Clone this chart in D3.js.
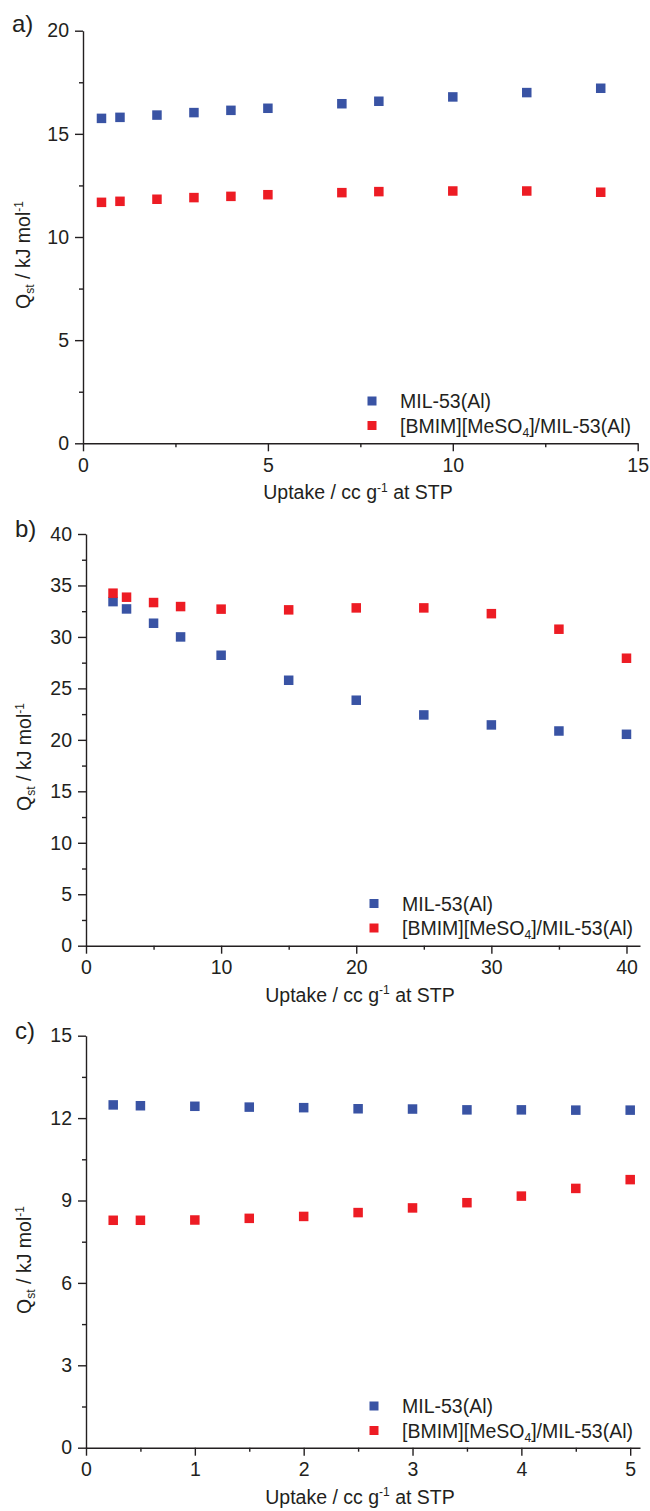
<!DOCTYPE html>
<html>
<head>
<meta charset="utf-8">
<script src="https://cdn.jsdelivr.net/npm/d3@7"></script>
<style>
  html, body { margin: 0; padding: 0; background: #fff; }
  svg { display: block; }
  text { font-family: "Liberation Sans", Arial, Helvetica, sans-serif; fill: #231f20; }
</style>
</head>
<body>
<script>
// Isosteric heat of adsorption (Qst) vs. uptake for the three panels
const seriesNames = ["MIL-53(Al)", "[BMIM][MeSO4]/MIL-53(Al)"];

// Panel a
const uptakeA = [0.5, 1, 2, 3, 4, 5, 7, 8, 10, 12, 14];
const milA    = [15.75, 15.80, 15.91, 16.03, 16.14, 16.24, 16.46, 16.58, 16.79, 17.00, 17.21];
const ilA     = [11.68, 11.73, 11.83, 11.91, 11.97, 12.05, 12.15, 12.20, 12.23, 12.23, 12.17];
const xTicksA = [0, 5, 10, 15];
const yTicksA = [0, 5, 10, 15, 20];

// Panel b
const uptakeB = [2, 3, 5, 7, 10, 15, 20, 25, 30, 35, 40];
const milB    = [33.43, 32.72, 31.33, 30.00, 28.22, 25.79, 23.85, 22.42, 21.45, 20.86, 20.54];
const ilB     = [34.25, 33.86, 33.34, 32.95, 32.70, 32.63, 32.82, 32.82, 32.26, 30.75, 27.93];
const xTicksB = [0, 10, 20, 30, 40];
const yTicksB = [0, 5, 10, 15, 20, 25, 30, 35, 40];

// Panel c
const uptakeC = [0.25, 0.5, 1, 1.5, 2, 2.5, 3, 3.5, 4, 4.5, 5];
const milC    = [12.48, 12.45, 12.43, 12.40, 12.38, 12.34, 12.33, 12.30, 12.30, 12.29, 12.29];
const ilC     = [8.28, 8.28, 8.29, 8.35, 8.42, 8.56, 8.73, 8.92, 9.16, 9.44, 9.76];
const xTicksC = [0, 1, 2, 3, 4, 5];
const yTicksC = [0, 3, 6, 9, 12, 15];

const colors = ["#3953a4", "#ed1c24"];
const ink = "#231f20";
const fontSize = 19.5;

const svg = d3.select("body").append("svg")
  .attr("width", 650).attr("height", 1511);

function panel(cfg) {
  const g = svg.append("g");
  const x = d3.scaleLinear().domain(cfg.xDomain).range([cfg.left, cfg.right]);
  const y = d3.scaleLinear().domain(cfg.yDomain).range([cfg.bottom, cfg.top]);

  // minor ticks
  g.append("g").attr("transform", `translate(0,${cfg.bottom})`)
    .call(d3.axisBottom(x).tickValues(cfg.xMinor).tickSize(4).tickFormat(""))
    .call(s => s.select(".domain").remove());
  g.append("g").attr("transform", `translate(${cfg.left},0)`)
    .call(d3.axisLeft(y).tickValues(cfg.yMinor).tickSize(4).tickFormat(""))
    .call(s => s.select(".domain").remove());

  // major axes
  const xa = g.append("g").attr("transform", `translate(0,${cfg.bottom})`)
    .call(d3.axisBottom(x).tickValues(cfg.xTicks).tickSize(8).tickPadding(6.5).tickSizeOuter(0).tickFormat(d3.format("d")));
  const ya = g.append("g").attr("transform", `translate(${cfg.left},0)`)
    .call(d3.axisLeft(y).tickValues(cfg.yTicks).tickSize(8).tickPadding(6).tickSizeOuter(0).tickFormat(d3.format("d")));
  [xa, ya].forEach(a => {
    a.selectAll("path, line").attr("stroke", ink).attr("stroke-width", 1.4);
    a.selectAll("text").attr("font-size", fontSize).attr("fill", ink)
      .attr("font-family", "Liberation Sans, Arial, sans-serif");
  });
  g.selectAll("line").attr("stroke", ink).attr("stroke-width", 1.4);

  // data markers
  const sz = 9.5;
  [cfg.mil, cfg.il].forEach((vals, si) => {
    g.append("g").selectAll("rect").data(cfg.xs.map((d, i) => [d, vals[i]]))
      .join("rect")
      .attr("x", d => x(d[0]) - sz / 2)
      .attr("y", d => y(d[1]) - sz / 2)
      .attr("width", sz).attr("height", sz)
      .attr("fill", colors[si]);
  });

  // legend
  const lg = g.append("g").attr("transform", `translate(${cfg.legX},${cfg.legY})`);
  seriesNames.forEach((name, i) => {
    const row = lg.append("g").attr("transform", `translate(0,${i * 24.5})`);
    row.append("rect").attr("x", -4.5).attr("y", -4.5).attr("width", 9).attr("height", 9).attr("fill", colors[i]);
    const t = row.append("text").attr("x", 28).attr("y", 7).attr("font-size", fontSize);
    if (name.includes("MeSO4")) {
      const [pre, post] = name.split("MeSO4");
      t.append("tspan").text(pre + "MeSO");
      t.append("tspan").attr("font-size", fontSize * 0.62).attr("dy", 4).text("4");
      t.append("tspan").attr("dy", -4).text(post);
    } else {
      t.text(name);
    }
  });

  // x axis title
  const xt = g.append("text").attr("x", cfg.xTitleX).attr("y", cfg.bottom + 56)
    .attr("text-anchor", "middle").attr("font-size", fontSize);
  xt.append("tspan").text("Uptake / cc g");
  xt.append("tspan").attr("font-size", fontSize * 0.62).attr("dy", -7.5).text("-1");
  xt.append("tspan").attr("dy", 7.5).text(" at STP");

  // y axis title
  const yt = g.append("text")
    .attr("transform", `translate(${cfg.yTitleX},${cfg.yTitleY}) rotate(-90)`)
    .attr("text-anchor", "middle").attr("font-size", fontSize);
  yt.append("tspan").text("Q");
  yt.append("tspan").attr("font-size", fontSize * 0.62).attr("dy", 4).text("st");
  yt.append("tspan").attr("dy", -4).text(" / kJ mol");
  yt.append("tspan").attr("font-size", fontSize * 0.62).attr("dy", -7.5).text("-1");

  // panel label
  g.append("text").attr("x", cfg.labX).attr("y", cfg.labY)
    .attr("font-size", 24).text(cfg.label);
}

panel({
  label: "a)", labX: 12, labY: 32,
  xDomain: [0, 15], yDomain: [0, 20],
  left: 83, right: 637.7, top: 30.7, bottom: 443.3,
  xTicks: xTicksA, yTicks: yTicksA,
  xMinor: [2.5, 7.5, 12.5], yMinor: [2.5, 7.5, 12.5, 17.5],
  xs: uptakeA, mil: milA, il: ilA,
  legX: 372, legY: 401,
  xTitleX: 358, yTitleX: 30, yTitleY: 255
});

panel({
  label: "b)", labX: 15, labY: 537,
  xDomain: [0, 41], yDomain: [0, 40],
  left: 86, right: 640, top: 534, bottom: 945.7,
  xTicks: xTicksB, yTicks: yTicksB,
  xMinor: [5, 15, 25, 35], yMinor: [2.5, 7.5, 12.5, 17.5, 22.5, 27.5, 32.5, 37.5],
  xs: uptakeB, mil: milB, il: ilB,
  legX: 374, legY: 903.5,
  xTitleX: 360, yTitleX: 31, yTitleY: 757
});

panel({
  label: "c)", labX: 15, labY: 1039,
  xDomain: [0, 5.09], yDomain: [0, 15],
  left: 86, right: 640, top: 1035.7, bottom: 1447.7,
  xTicks: xTicksC, yTicks: yTicksC,
  xMinor: [0.5, 1.5, 2.5, 3.5, 4.5], yMinor: [1.5, 4.5, 7.5, 10.5, 13.5],
  xs: uptakeC, mil: milC, il: ilC,
  legX: 374, legY: 1406,
  xTitleX: 360, yTitleX: 31, yTitleY: 1260
});
</script>
</body>
</html>
